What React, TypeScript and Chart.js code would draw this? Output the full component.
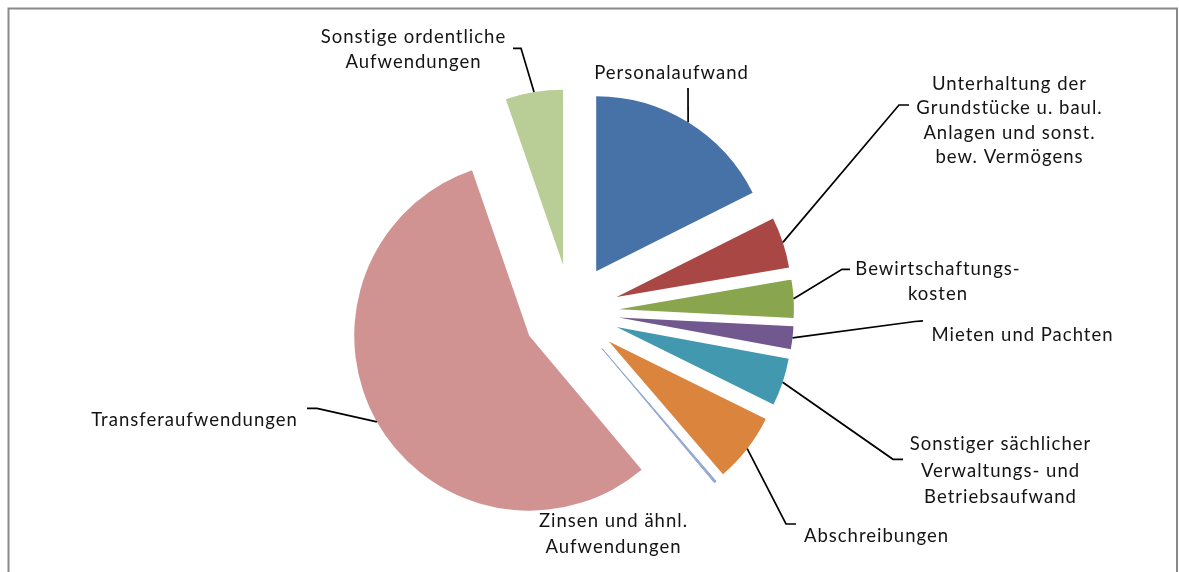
import React, { useEffect, useRef } from "react";
import { Chart, registerables } from "chart.js";

Chart.register(...registerables);

// ---- data ----
const CATEGORIES: string[][] = [
  ["Personalaufwand"],
  ["Unterhaltung der", "Grundstücke u. baul.", "Anlagen und sonst.", "bew. Vermögens"],
  ["Bewirtschaftungs-", "kosten"],
  ["Mieten und Pachten"],
  ["Sonstiger sächlicher", "Verwaltungs- und", "Betriebsaufwand"],
  ["Abschreibungen"],
  ["Zinsen und ähnl.", "Aufwendungen"],
  ["Transferaufwendungen"],
  ["Sonstige ordentliche", "Aufwendungen"],
];
const SHARES = [17.6, 4.7, 3.5, 2.1, 4.4, 6.4, 0.2, 55.8, 5.3];
const COLORS = ["#4672A8", "#A94744", "#89A54E", "#71588F", "#4198AF", "#DB843D", "#93A9CF", "#D19392", "#B9CD96"];

// ---- layout (label placement, not data) ----
type LabelLayout = { x: number; y: number; lh: number; lead: number[][] };
const LABEL_LAYOUT: LabelLayout[] = [
  { x: 671, y: 72.7, lh: 25, lead: [[688, 88]] },
  { x: 1009, y: 83.3, lh: 24.5, lead: [[899, 105], [909, 105]] },
  { x: 937.5, y: 268.3, lh: 25, lead: [[842, 269.3], [850, 269.3]] },
  { x: 1022, y: 334.3, lh: 25, lead: [[915, 321.5], [923, 320.8]] },
  { x: 1000, y: 443.3, lh: 26.7, lead: [[893, 459.3], [903, 459.3]] },
  { x: 876, y: 535, lh: 25, lead: [[786, 524], [796, 524]] },
  { x: 613, y: 520, lh: 26, lead: [] },
  { x: 194, y: 419.3, lh: 25, lead: [[317, 408.3], [307, 408.3]] },
  { x: 413, y: 36.7, lh: 25, lead: [[521, 48.3], [513, 48.3]] },
];

const EXPLODE = 48;
const PIE_RADIUS = 175;
const FONT_SIZE = 18.5;
const LETTER_SPACING = 1;
const FONT_FAMILY = "Lato, 'Open Sans', sans-serif";
const TEXT_COLOR = "#141414";

const borderPlugin = {
  id: "frameBorder",
  beforeDraw(chart: any) {
    const ctx = chart.ctx;
    ctx.save();
    ctx.strokeStyle = "#898989";
    ctx.lineWidth = 2;
    ctx.strokeRect(8.5, 8.5, 1168.5, 640);
    ctx.restore();
  },
};

const explodePlugin = {
  id: "explodeSlices",
  beforeDatasetsDraw(chart: any) {
    const { left, right, top, bottom } = chart.chartArea;
    const cx = (left + right) / 2;
    const cy = (top + bottom) / 2;
    chart.getDatasetMeta(0).data.forEach((el: any) => {
      const mid = (el.startAngle + el.endAngle) / 2;
      el.x = cx + Math.cos(mid) * EXPLODE;
      el.y = cy + Math.sin(mid) * EXPLODE;
    });
  },
};

const labelPlugin = {
  id: "sliceLabels",
  afterDatasetsDraw(chart: any) {
    const ctx = chart.ctx;
    const meta = chart.getDatasetMeta(0);
    const labels = chart.data.labels as string[][];
    ctx.save();
    meta.data.forEach((el: any, i: number) => {
      const lay = LABEL_LAYOUT[i];
      if (!lay) return;
      const mid = (el.startAngle + el.endAngle) / 2;
      if (lay.lead.length) {
        const px = el.x + Math.cos(mid) * el.outerRadius;
        const py = el.y + Math.sin(mid) * el.outerRadius;
        ctx.beginPath();
        ctx.moveTo(px, py);
        lay.lead.forEach((p) => ctx.lineTo(p[0], p[1]));
        ctx.strokeStyle = "#000";
        ctx.lineWidth = 1.7;
        ctx.lineJoin = "miter";
        ctx.stroke();
      }
      ctx.fillStyle = TEXT_COLOR;
      ctx.font = `${FONT_SIZE}px ${FONT_FAMILY}`;
      try {
        (ctx as any).letterSpacing = `${LETTER_SPACING}px`;
      } catch (e) {}
      ctx.textAlign = "center";
      ctx.textBaseline = "alphabetic";
      const capHalf = (FONT_SIZE * 0.72) / 2;
      labels[i].forEach((line, j) => {
        ctx.fillText(line, lay.x + LETTER_SPACING / 2, lay.y + j * lay.lh + capHalf);
      });
    });
    ctx.restore();
  },
};

export default function App() {
  const ref = useRef<HTMLCanvasElement | null>(null);
  useEffect(() => {
    if (!ref.current) return;
    const chart = new Chart(ref.current, {
      type: "pie",
      data: {
        labels: CATEGORIES,
        datasets: [
          {
            data: SHARES,
            backgroundColor: COLORS,
            borderColor: COLORS,
            borderWidth: SHARES.map((v) => (v < 0.5 ? 1 : 0)),
            radius: PIE_RADIUS,
          } as any,
        ],
      },
      options: {
        animation: false,
        responsive: false,
        devicePixelRatio: 1,
        layout: { padding: { left: 0, right: 37, top: 52, bottom: 0 } },
        plugins: {
          legend: { display: false },
          tooltip: { enabled: false },
        },
        events: [],
      },
      plugins: [borderPlugin, explodePlugin, labelPlugin],
    });
    return () => chart.destroy();
  }, []);
  return (
    <div style={{ position: "absolute", left: 0, top: 0, width: 1179, height: 572, background: "#fff" }}>
      <canvas ref={ref} width={1179} height={572} style={{ display: "block" }} />
    </div>
  );
}
